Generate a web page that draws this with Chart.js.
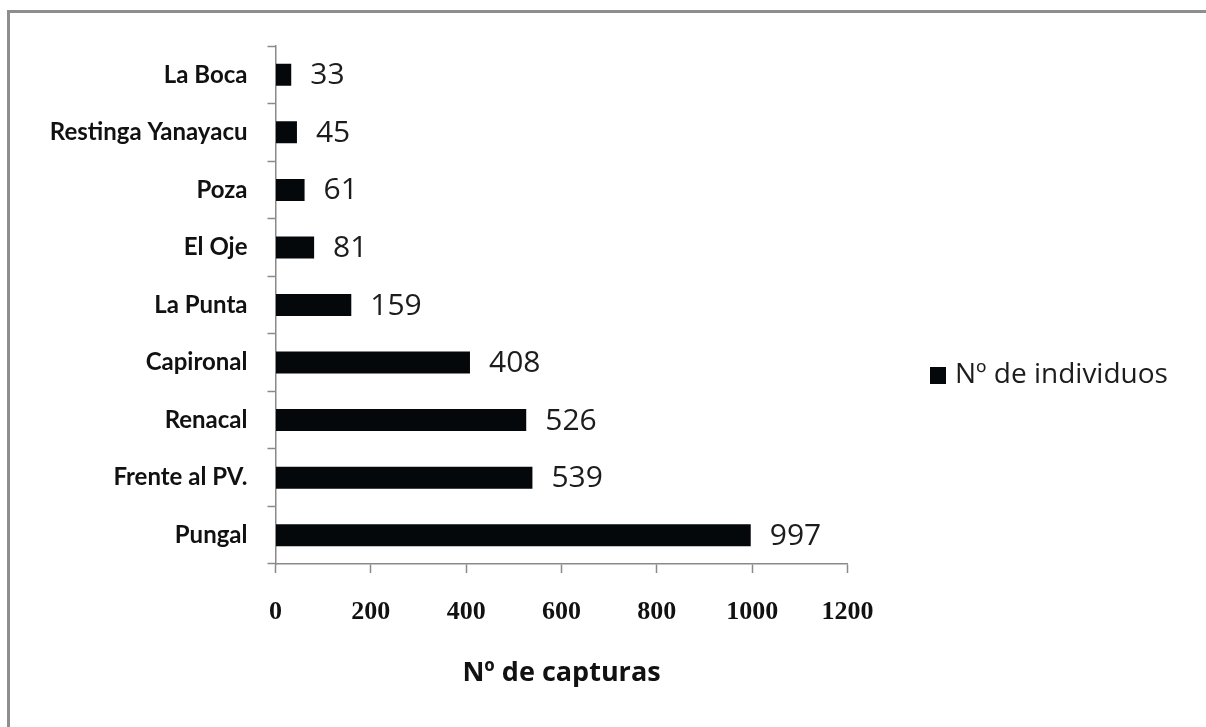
<!DOCTYPE html>
<html>
<head>
<meta charset="utf-8">
<script src="https://cdn.jsdelivr.net/npm/chart.js@4/dist/chart.umd.min.js"></script>
<style>
  html, body { margin: 0; padding: 0; background: #ffffff; overflow: hidden; }
  #wrap { position: relative; width: 1206px; height: 727px; }
  #frame {
    position: absolute; left: 7px; top: 10px; width: 1400px; height: 900px;
    border-left: 3px solid #8e8e8e; border-top: 3px solid #8e8e8e;
    box-sizing: border-box; pointer-events: none;
  }
  canvas { position: absolute; left: 0; top: 0; }
</style>
</head>
<body>
<div id="wrap">
  <canvas id="c" width="1206" height="727"></canvas>
  <div id="frame"></div>
</div>
<script>
// Sampling sites, listed top to bottom
const categories = ['La Boca', 'Restinga Yanayacu', 'Poza', 'El Oje', 'La Punta',
                    'Capironal', 'Renacal', 'Frente al PV.', 'Pungal'];
// Number of individuals captured at each site
const individuos = [33, 45, 61, 81, 159, 408, 526, 539, 997];
const seriesName = 'Nº de individuos';
const axisTitle = 'Nº de capturas';
const xTicks = [0, 200, 400, 600, 800, 1000, 1200];

const AXIS_GRAY = '#8a8a8a';
const BAR_BLACK = '#05080a';

// Writes each bar's value just past its end
const valueLabels = {
  id: 'valueLabels',
  afterDatasetsDraw(chart) {
    const ctx = chart.ctx;
    const meta = chart.getDatasetMeta(0);
    const data = chart.data.datasets[0].data;
    ctx.save();
    ctx.font = '30px "Open Sans"';
    ctx.fillStyle = '#1c1c1c';
    ctx.textAlign = 'left';
    ctx.textBaseline = 'middle';
    meta.data.forEach((bar, i) => {
      ctx.fillText(String(data[i]), bar.x + 19, bar.y + 1);
    });
    ctx.restore();
  }
};

// Single-entry legend to the right of the plot
const sideLegend = {
  id: 'sideLegend',
  afterDraw(chart) {
    const ctx = chart.ctx;
    const ds = chart.data.datasets[0];
    const area = chart.chartArea;
    const cy = (area.top + area.bottom) / 2 + 70;
    ctx.save();
    ctx.fillStyle = ds.backgroundColor;
    ctx.fillRect(930, cy - 8, 16, 17);
    ctx.font = '28px "Open Sans"';
    ctx.fillStyle = '#1c1c1c';
    ctx.textAlign = 'left';
    ctx.textBaseline = 'middle';
    ctx.fillText(ds.label, 955, cy);
    ctx.restore();
  }
};

new Chart(document.getElementById('c'), {
  type: 'bar',
  data: {
    labels: categories,
    datasets: [{
      label: seriesName,
      data: individuos,
      backgroundColor: BAR_BLACK,
      borderWidth: 0,
      categoryPercentage: 1,
      barPercentage: 0.382
    }]
  },
  options: {
    indexAxis: 'y',
    responsive: false,
    animation: false,
    devicePixelRatio: 1,
    layout: { padding: { top: 46, right: 358.5, bottom: 0, left: 0 } },
    plugins: {
      legend: { display: false },
      tooltip: { enabled: false }
    },
    scales: {
      x: {
        type: 'linear',
        min: 0,
        max: 1200,
        afterBuildTicks(scale) { scale.ticks = xTicks.map(v => ({ value: v })); },
        afterFit(scale) { scale.height = 163; },
        grid: {
          drawOnChartArea: false,
          drawTicks: true,
          tickLength: 9,
          tickWidth: 1.5,
          color: AXIS_GRAY
        },
        border: { display: true, color: AXIS_GRAY, width: 1.5 },
        ticks: {
          padding: 24,
          color: '#111111',
          font: { family: '"Liberation Serif"', size: 26, weight: 'bold' },
          callback: (v) => String(v)
        },
        title: {
          display: true,
          text: axisTitle,
          color: '#111111',
          font: { family: '"Open Sans"', size: 27, weight: 'bold' },
          padding: { top: 0, bottom: 37 }
        }
      },
      y: {
        type: 'category',
        offset: true,
        afterFit(scale) { scale.width = 275.5; },
        grid: {
          offset: true,
          drawOnChartArea: false,
          drawTicks: true,
          tickLength: 8,
          tickWidth: 1.5,
          color: AXIS_GRAY
        },
        border: { display: true, color: AXIS_GRAY, width: 1.5 },
        ticks: {
          padding: 20,
          color: '#111111',
          autoSkip: false,
          font: { family: 'Lato', size: 24, weight: 'bold' }
        }
      }
    }
  },
  plugins: [valueLabels, sideLegend]
});
</script>
</body>
</html>
